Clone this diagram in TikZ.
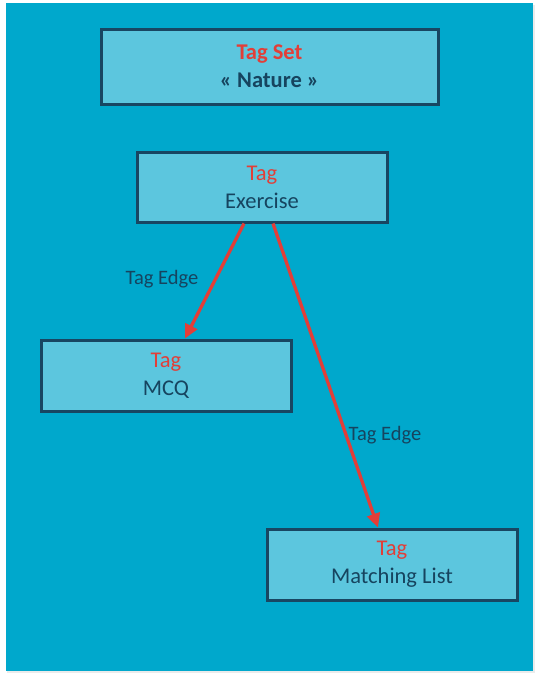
\documentclass[tikz,border=0pt]{standalone}
\usepackage{fontspec}
\setmainfont{Carlito}
\usetikzlibrary{arrows.meta}
\definecolor{bgblue}{RGB}{0,168,204}
\definecolor{boxfill}{RGB}{92,198,222}
\definecolor{boxline}{RGB}{24,70,98}
\definecolor{txtdark}{RGB}{22,68,95}
\definecolor{tagred}{RGB}{226,62,56}
\tikzset{
  tagbox/.style={draw=boxline, fill=boxfill, line width=3pt, rectangle,
    minimum width=250pt, minimum height=70pt, align=center, inner sep=0pt,
    text=txtdark, font=\fontsize{22.5}{28}\selectfont},
  edgelink/.style={draw=tagred, line width=3.3pt, -{Triangle[length=14pt,width=13pt]}},
  edgelabel/.style={text=txtdark, font=\fontsize{20.5}{22}\selectfont, inner sep=0pt}
}
\begin{document}
\begin{tikzpicture}[x=1pt,y=-1pt]
\useasboundingbox (0,0) rectangle (540,680);
\fill[white] (0,0) rectangle (540,680);
\fill[black!8] (7,5) rectangle (535,673);
\fill[bgblue] (6,3) rectangle (533,671);
\node[tagbox, minimum width=337pt, minimum height=75pt] (set) at (269.5,66.5)
  {\textcolor{tagred}{\bfseries Tag Set}\\ \bfseries « Nature »};
\node[tagbox] (ex) at (262,187) {\textcolor{tagred}{Tag}\\ Exercise};
\node[tagbox, minimum height=71pt] (mcq) at (166,375.5) {\textcolor{tagred}{Tag}\\ MCQ};
\node[tagbox, minimum height=71pt] (ml) at (392,564.5) {\textcolor{tagred}{Tag}\\ Matching List};
\draw[edgelink] ([xshift=-18pt]ex.south) -- ([xshift=19pt]mcq.north);
\draw[edgelink] ([xshift=11pt]ex.south) -- ([xshift=-14pt]ml.north);
\node[edgelabel] (l1) at (162,279) {Tag Edge};
\node[edgelabel] (l2) at (385,435) {Tag Edge};
\end{tikzpicture}
\end{document}
